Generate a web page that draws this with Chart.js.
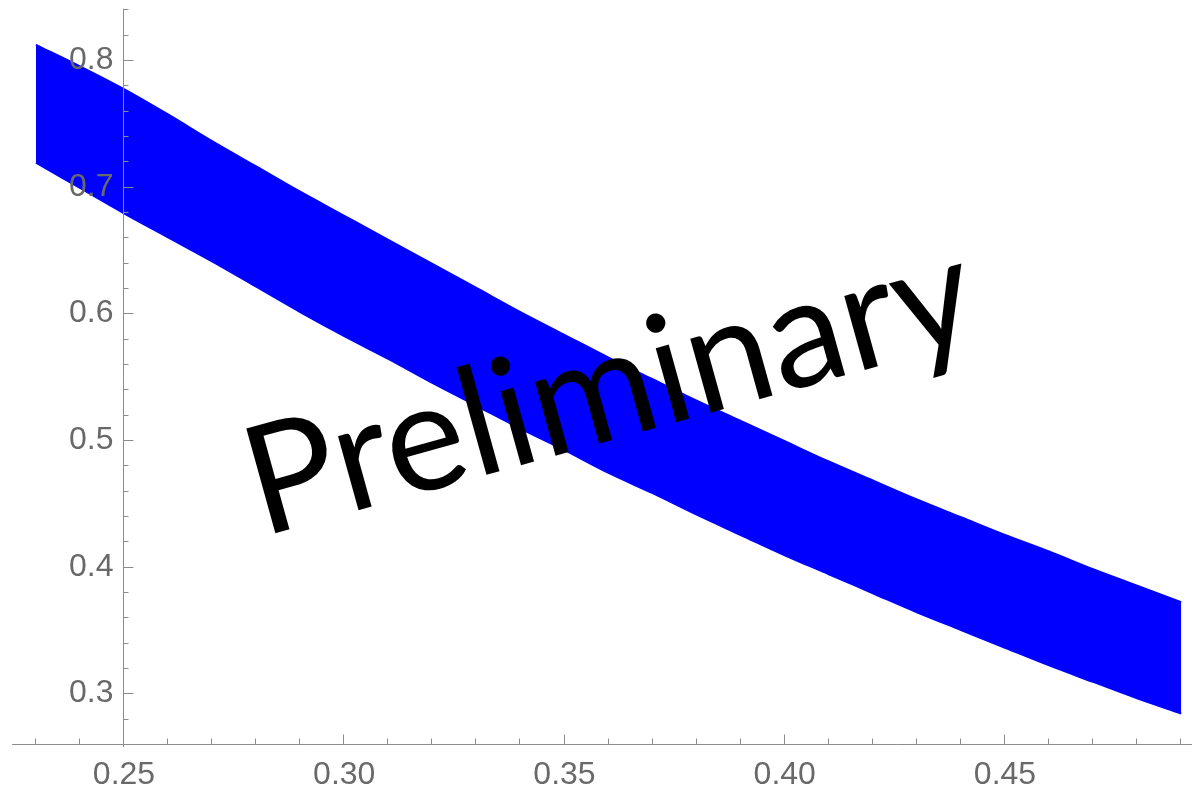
<!DOCTYPE html>
<html>
<head>
<meta charset="utf-8">
<title>Preliminary band</title>
<script src="https://cdn.jsdelivr.net/npm/chart.js@4/dist/chart.umd.min.js"></script>
<style>
  html, body { margin: 0; padding: 0; background: #ffffff; }
  #wrap { width: 1192px; height: 787px; }
</style>
</head>
<body>
<div id="wrap"><canvas id="band" width="1192" height="787"></canvas></div>
<script>
// Band sampled on a regular grid of x
const xValues = [0.23, 0.24, 0.25, 0.26, 0.27, 0.28, 0.29, 0.30, 0.31, 0.32, 0.33, 0.34, 0.35,
                 0.36, 0.37, 0.38, 0.39, 0.40, 0.41, 0.42, 0.43, 0.44, 0.45, 0.46, 0.47, 0.48, 0.49];
const upperBound = [0.812, 0.795, 0.777, 0.757, 0.736, 0.716, 0.696, 0.677, 0.658, 0.639, 0.620, 0.601, 0.583,
                    0.565, 0.548, 0.531, 0.515, 0.499, 0.483, 0.468, 0.453, 0.439, 0.425, 0.412, 0.398, 0.385, 0.372];
const lowerBound = [0.719, 0.699, 0.679, 0.660, 0.641, 0.621, 0.601, 0.582, 0.564, 0.545, 0.527, 0.509, 0.492,
                    0.474, 0.458, 0.441, 0.425, 0.409, 0.394, 0.379, 0.364, 0.350, 0.336, 0.322, 0.309, 0.296, 0.284];

// Axis ticks
const xMajorTicks = [0.25, 0.30, 0.35, 0.40, 0.45];
const xTickLabels = ['0.25', '0.30', '0.35', '0.40', '0.45'];
const xMinorTicks = [0.23, 0.24, 0.26, 0.27, 0.28, 0.29, 0.31, 0.32, 0.33, 0.34, 0.36, 0.37, 0.38, 0.39,
                     0.41, 0.42, 0.43, 0.44, 0.46, 0.47, 0.48, 0.49];
const yMajorTicks = [0.3, 0.4, 0.5, 0.6, 0.7, 0.8];
const yTickLabels = ['0.3', '0.4', '0.5', '0.6', '0.7', '0.8'];
const yMinorTicks = [0.28, 0.32, 0.34, 0.36, 0.38, 0.42, 0.44, 0.46, 0.48, 0.52, 0.54, 0.56, 0.58,
                     0.62, 0.64, 0.66, 0.68, 0.72, 0.74, 0.76, 0.78, 0.82, 0.84];

const watermarkText = 'Preliminary';

// Plot geometry
const X_RANGE = [0.22185, 0.49245];
const Y_RANGE = [0.22602, 0.84737];
const AXES_ORIGIN = [0.25, 0.26];
const X_AXIS_SPAN = [0.2246, 0.4925];
const Y_AXIS_SPAN = [0.2576, 0.8405];

const AXIS_COLOR = '#8c8c8c';
const LABEL_COLOR = '#696969';
const LABEL_FONT = '32px "Liberation Sans", Arial, Helvetica, sans-serif';
const BAND_COLOR = '#0000ff';

const toPoints = (ys) => xValues.map((x, i) => ({ x: x, y: ys[i] }));

// Crossing axes with major/minor ticks, drawn over the band
const crossingAxes = {
  id: 'crossingAxes',
  afterDatasetsDraw(chart) {
    const ctx = chart.ctx;
    const xs = chart.scales.x;
    const ys = chart.scales.y;
    const ox = Math.round(xs.getPixelForValue(AXES_ORIGIN[0])) - 0.5;
    const oy = Math.round(ys.getPixelForValue(AXES_ORIGIN[1])) + 0.5;
    ctx.save();
    ctx.strokeStyle = AXIS_COLOR;
    ctx.lineWidth = 1;
    ctx.beginPath();
    ctx.moveTo(xs.getPixelForValue(X_AXIS_SPAN[0]), oy);
    ctx.lineTo(xs.getPixelForValue(X_AXIS_SPAN[1]), oy);
    ctx.moveTo(ox, ys.getPixelForValue(Y_AXIS_SPAN[0]));
    ctx.lineTo(ox, ys.getPixelForValue(Y_AXIS_SPAN[1]));
    xMajorTicks.forEach(v => {
      const px = Math.round(xs.getPixelForValue(v)) - 0.5;
      ctx.moveTo(px, oy); ctx.lineTo(px, oy - 10);
    });
    xMinorTicks.forEach(v => {
      const px = Math.round(xs.getPixelForValue(v)) - 0.5;
      ctx.moveTo(px, oy); ctx.lineTo(px, oy - 6);
    });
    yMajorTicks.forEach(v => {
      const py = Math.round(ys.getPixelForValue(v)) + 0.5;
      ctx.moveTo(ox, py); ctx.lineTo(ox + 10, py);
    });
    yMinorTicks.forEach(v => {
      const py = Math.round(ys.getPixelForValue(v)) + 0.5;
      ctx.moveTo(ox, py); ctx.lineTo(ox + 5, py);
    });
    ctx.stroke();

    ctx.fillStyle = LABEL_COLOR;
    ctx.font = LABEL_FONT;
    ctx.textBaseline = 'alphabetic';
    ctx.textAlign = 'center';
    xMajorTicks.forEach((v, i) => {
      ctx.fillText(xTickLabels[i], xs.getPixelForValue(v), oy + 39);
    });
    ctx.textAlign = 'right';
    yMajorTicks.forEach((v, i) => {
      ctx.fillText(yTickLabels[i], ox - 10, ys.getPixelForValue(v) + 9);
    });
    ctx.restore();
  }
};

// Rotated "Preliminary" stamp over the plot
const stamp = {
  id: 'stamp',
  afterDraw(chart) {
    const ctx = chart.ctx;
    ctx.save();
    const family = 'Lato, "Open Sans", "Noto Sans", sans-serif';
    ctx.font = '100px ' + family;
    const w100 = ctx.measureText(watermarkText).width;
    const size = 100 * 748 / w100;
    ctx.font = size.toFixed(1) + 'px ' + family;
    ctx.translate(262, 537);
    ctx.rotate(-15.5 * Math.PI / 180);
    ctx.fillStyle = '#000000';
    ctx.textAlign = 'left';
    ctx.textBaseline = 'alphabetic';
    ctx.fillText(watermarkText, 0, 0);
    ctx.restore();
  }
};

function build() {
  new Chart(document.getElementById('band'), {
    type: 'line',
    data: {
      datasets: [
        {
          label: 'upper',
          data: toPoints(upperBound),
          borderColor: BAND_COLOR,
          backgroundColor: BAND_COLOR,
          borderWidth: 2,
          pointRadius: 0,
          cubicInterpolationMode: 'monotone',
          fill: '+1'
        },
        {
          label: 'lower',
          data: toPoints(lowerBound),
          borderColor: BAND_COLOR,
          backgroundColor: BAND_COLOR,
          borderWidth: 2,
          pointRadius: 0,
          cubicInterpolationMode: 'monotone',
          fill: false
        }
      ]
    },
    options: {
      responsive: false,
      animation: false,
      layout: { padding: 0 },
      plugins: {
        legend: { display: false },
        tooltip: { enabled: false },
        title: { display: false }
      },
      scales: {
        x: { type: 'linear', min: X_RANGE[0], max: X_RANGE[1], display: false },
        y: { type: 'linear', min: Y_RANGE[0], max: Y_RANGE[1], display: false }
      }
    },
    plugins: [crossingAxes, stamp]
  });
}

if (document.fonts && document.fonts.load) {
  Promise.all([
    document.fonts.load('100px Lato'),
    document.fonts.load('32px "Liberation Sans"')
  ]).then(build, build);
} else {
  build();
}
</script>
</body>
</html>
